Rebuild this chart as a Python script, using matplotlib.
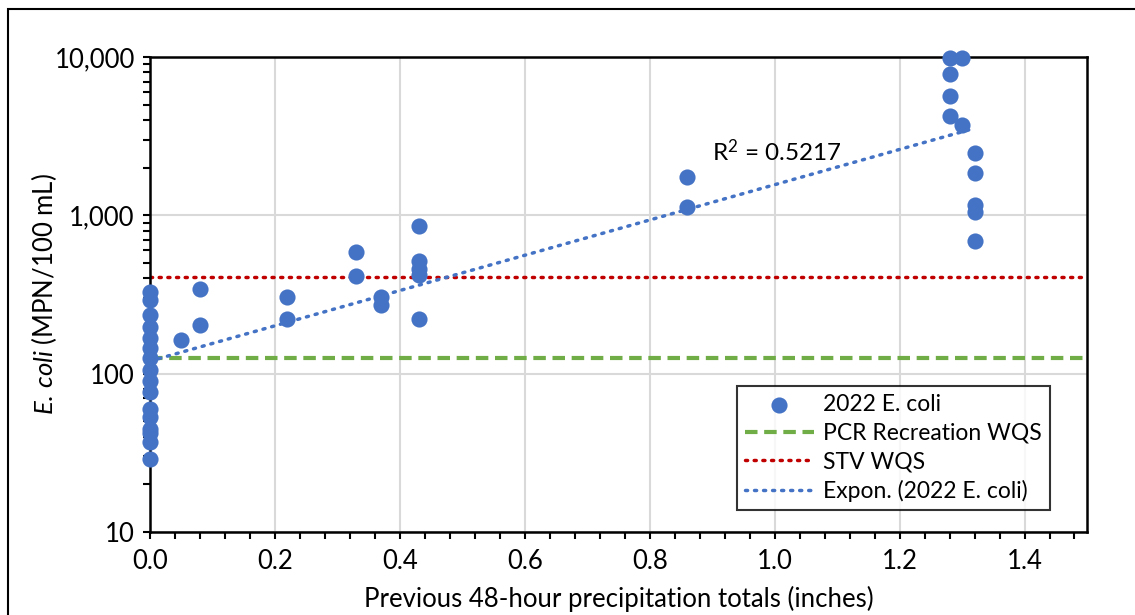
import matplotlib
matplotlib.use('agg')
import matplotlib.pyplot as plt
from matplotlib.ticker import FuncFormatter, LogLocator, MultipleLocator
from matplotlib.patches import Rectangle
import numpy as np

plt.rcParams['font.family'] = ['Lato', 'DejaVu Sans']
plt.rcParams['mathtext.fontset'] = 'custom'
plt.rcParams['mathtext.it'] = 'Lato:italic'
plt.rcParams['mathtext.rm'] = 'Lato'

# 2022 samples: previous 48-hour rainfall (in) and E. coli (MPN/100 mL)
precip = [0.0] * 16 + [0.05, 0.08, 0.08, 0.22, 0.22, 0.33, 0.33, 0.37, 0.37,
                       0.43, 0.43, 0.43, 0.43, 0.43, 0.86, 0.86,
                       1.28, 1.28, 1.28, 1.28, 1.30, 1.30,
                       1.32, 1.32, 1.32, 1.32, 1.32]
ecoli = [330, 294, 233, 196, 167, 146, 126, 106, 90, 77, 60, 53, 45, 42, 37, 29,
         162, 345, 204, 307, 220, 583, 411, 307, 272,
         855, 514, 455, 420, 222, 1740, 1125,
         9800, 7800, 5690, 4220, 9800, 3720,
         2470, 1845, 1160, 1050, 687]

pcr_wqs = 126
stv_wqs = 410
r2_text = 'R$^2$ = 0.5217'

fig = plt.figure(figsize=(11.35, 6.15), dpi=100)
ax = fig.add_axes([0.1322, 0.135, 0.8255, 0.7723])

# exponential trendline fitted in log space
x = np.array(precip)
y = np.array(ecoli)
b, ln_a = np.polyfit(x, np.log(y), 1)
xs = np.linspace(x.min(), x.max(), 200)

ax.scatter(x, y, s=135, color='#4472C4', zorder=5, label='2022 E. coli',
           linewidths=0, clip_on=False)
ax.axhline(pcr_wqs, color='#70AD47', lw=3, ls=(0, (3, 1.6)), label='PCR Recreation WQS', zorder=2)
ax.axhline(stv_wqs, color='#C00000', lw=2.5, ls=(0, (0.6, 1.9)), dash_capstyle='round',
           label='STV WQS', zorder=2)
ax.plot(xs, np.exp(ln_a) * np.exp(b * xs), color='#4472C4', lw=2.5, ls=(0, (0.6, 2.0)),
        dash_capstyle='round', label='Expon. (2022 E. coli)', zorder=6)

ax.set_yscale('log')
ax.set_ylim(10, 10000)
ax.set_xlim(0, 1.5)
ax.xaxis.set_major_locator(MultipleLocator(0.2))
ax.xaxis.set_minor_locator(MultipleLocator(0.04))
ax.xaxis.set_major_formatter(FuncFormatter(lambda v, p: '%.1f' % v if v < 1.45 else ''))
ax.yaxis.set_major_locator(LogLocator(base=10))
ax.yaxis.set_minor_locator(LogLocator(base=10, subs=np.arange(2, 10)))
ax.yaxis.set_major_formatter(FuncFormatter(lambda v, p: '{:,.0f}'.format(v)))
ax.yaxis.set_minor_formatter(FuncFormatter(lambda v, p: ''))
ax.tick_params(which='both', direction='out', length=5, width=1.5, labelsize=18.5, colors='black')
ax.tick_params(axis='x', pad=7)
ax.tick_params(axis='y', pad=6)
ax.grid(True, which='major', color='#D9D9D9', lw=1.5)
ax.set_axisbelow(True)
for s in ax.spines.values():
    s.set_linewidth(1.8)
    s.set_zorder(4)

ax.set_xlabel('Previous 48-hour precipitation totals (inches)', fontsize=18.5, labelpad=9)
ax.set_ylabel('$\\mathit{E.\\,coli}$ (MPN/100 mL)', fontsize=18.5, labelpad=-3)

ax.text(0.90, 2540, r2_text, fontsize=17.5, ha='left', va='center')

leg = ax.legend(loc='lower right', bbox_to_anchor=(0.96, 0.046), fontsize=16.5,
                frameon=True, fancybox=False, edgecolor='black', handlelength=3.0,
                borderpad=0.35, labelspacing=0.33, handletextpad=0.4, borderaxespad=0)
leg.get_frame().set_linewidth(1.5)

# chart border
fig.patches.append(Rectangle((8 / 1135, -0.1), 1.2, 1 - 9 / 615 + 0.1,
                             transform=fig.transFigure, fill=False,
                             edgecolor='black', lw=1.5))

fig.savefig('out.png', dpi=100)
plt.close(fig)
